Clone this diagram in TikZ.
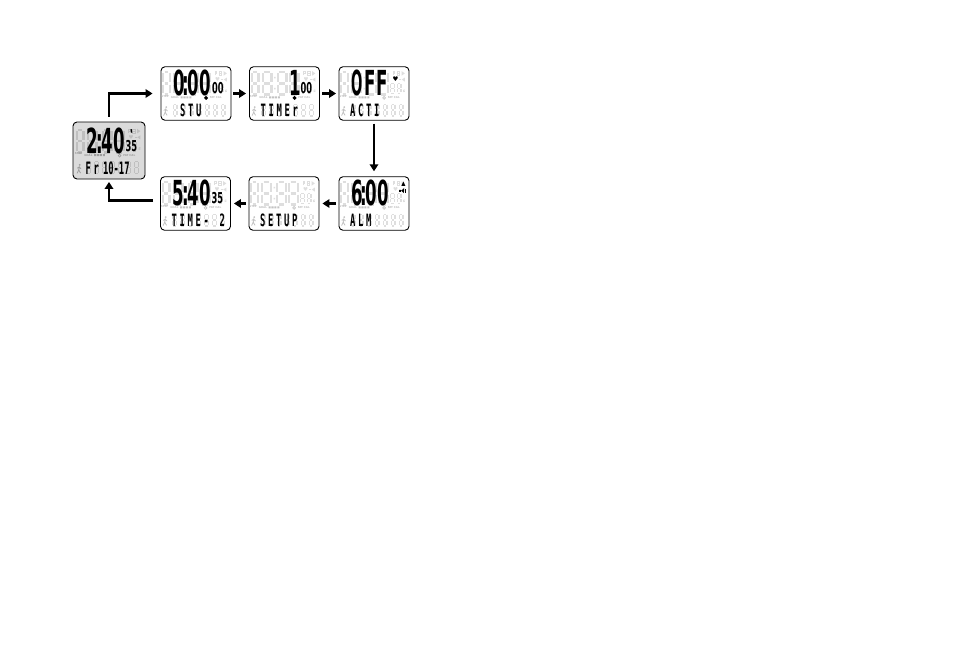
\documentclass[tikz,border=0pt]{standalone}
\usepackage{fontspec}
\usepackage{graphicx}
\usetikzlibrary{arrows.meta}
\newfontfamily\lcdfont{DejaVu Sans}
\newfontfamily\segfont{DejaVu Sans Mono}
\definecolor{ghostW}{gray}{0.87}
\definecolor{ghostG}{gray}{0.75}
\definecolor{bgA}{gray}{0.86}
\definecolor{tinyW}{gray}{0.76}
\definecolor{tinyG}{gray}{0.62}
\def\gcol{ghostW}
\def\tcol{tinyW}

% ghost seven-segment "8": x y w h thickness
\newcommand\geight[5]{%
 \pgfmathsetmacro\qa{#5/2}%
 \pgfmathsetmacro\qg{#5*0.6}%
 \pgfmathsetmacro\qxl{#1+\qa}\pgfmathsetmacro\qxr{#1+#3-\qa}%
 \pgfmathsetmacro\qxli{\qxl+\qg}\pgfmathsetmacro\qxri{\qxr-\qg}%
 \pgfmathsetmacro\qyt{#2+\qa}\pgfmathsetmacro\qym{#2+#4/2}\pgfmathsetmacro\qyb{#2+#4-\qa}%
 \pgfmathsetmacro\qyti{\qyt+\qg}\pgfmathsetmacro\qymu{\qym-\qg}%
 \pgfmathsetmacro\qymd{\qym+\qg}\pgfmathsetmacro\qybi{\qyb-\qg}%
 \draw[line width=#5pt, draw=\gcol, line cap=butt]
   (\qxli,\qyt)--(\qxri,\qyt) (\qxli,\qym)--(\qxri,\qym) (\qxli,\qyb)--(\qxri,\qyb)
   (\qxl,\qyti)--(\qxl,\qymu) (\qxr,\qyti)--(\qxr,\qymu)
   (\qxl,\qymd)--(\qxl,\qybi) (\qxr,\qymd)--(\qxr,\qybi);}

\newcommand\bigtxt[1]{{\lcdfont\bfseries\fontsize{20}{20}\selectfont\scalebox{0.83}[1.725]{#1}}}
\newcommand\smalltxt[1]{{\lcdfont\bfseries\fontsize{15}{15}\selectfont\scalebox{0.55}[1]{#1}}}
\newcommand\segtxt[1]{{\segfont\bfseries\fontsize{10.5}{10.5}\selectfont\scalebox{0.84}[1.62]{#1}}}
\newcommand\lk{\kern3.2pt}
\newcommand\ck{\kern-1.97pt}

\tikzset{
 lcdbox/.style={draw=black, line width=0.9pt, rounded corners=4pt, fill=white,
   minimum width=70pt, minimum height=53.5pt, inner sep=0pt},
 flow/.style={line width=2.6pt, -{Triangle[length=7pt,width=8.5pt]}},
 txt/.style={anchor=south west, inner sep=0pt, outer sep=0pt},
 tinylbl/.style={anchor=north west, inner sep=0pt, text=\tcol,
   font=\lcdfont\bfseries\fontsize{2.7}{2.7}\selectfont},
 icon/.style={draw=\gcol, line width=0.7pt},
 blackwatch/.style={line width=0.8pt},
}

% common LCD background (ghost segments, icons, tiny labels)
\newcommand\lcdbase[1]{%
 \geight{1.5}{4.5}{9}{25}{2.4}
 \geight{12.5}{4.5}{11}{25}{2.4}
 \geight{27.5}{4.5}{11}{25}{2.4}
 \geight{39.5}{4.5}{11}{25}{2.4}
 \fill[\gcol] (25,10.5) rectangle (26.6,12.1) (25,21.5) rectangle (26.6,23.1);
 \geight{51.5}{16.5}{5.2}{11}{1.3}
 \geight{58}{16.5}{5.2}{11}{1.3}
 \draw[icon] (54.5,8.8)--(54.5,5)--(56.2,5)--(56.2,6.8)--(54.5,6.8);
 \draw[icon] (58.3,4.8) rectangle (61,9.5) (58.3,7.1)--(61,7.1);
 \fill[\gcol] (63,4.8)--(66.3,7.1)--(63,9.4)--cycle;
 \node[inner sep=0pt, text=\gcol] (#1-heart) at (57,13.3) {\lcdfont\fontsize{5.5}{5.5}\selectfont ♥};
 \draw[icon] (60.8,13.3)--(62.6,13.3);
 \fill[\gcol] (63.2,13.3)--(66.3,11.3)--(66.3,15.3)--cycle;
 \draw[icon] (66.4,25.2) arc (40:320:1);
 \node[tinylbl] (#1-step) at (0.6,28.6) {STEP};
 \node[tinylbl] (#1-goal) at (10,29.8) {GOAL};
 \fill[\tcol] (20,30) rectangle (22.1,32) (22.9,30) rectangle (25,32)
   (25.8,30) rectangle (27.9,32) (28.7,30) rectangle (30.8,32);
 \draw[draw=\tcol, line width=0.7pt] (45.5,31.6) circle (1.4) (45.5,30)--(45.5,29.4);
 \node[tinylbl] (#1-fat) at (49,30.2) {FAT CAL};
 \begin{scope}[draw=\tcol, line width=0.8pt, line cap=round]
  \fill[\tcol] (5.6,40.8) circle (1);
  \draw (5.3,42.3)--(4.7,45.8) (4.7,45.8)--(3.1,49.1) (4.7,45.8)--(6.4,48.9)
        (3.3,44.1)--(5.1,43)--(6.9,44.6);
 \end{scope}
 \foreach \k in {0,...,6}{\geight{12+8*\k}{37.2}{5}{13}{1.1}}
}

\begin{document}
\begin{tikzpicture}[x=1pt,y=-1pt]
\fill[white] (0,0) rectangle (954,646);
\useasboundingbox (0,0) rectangle (954,646);

% boxes
\node[lcdbox, fill=bgA, minimum width=72pt, minimum height=57pt] (A) at (109,150.5) {};
\node[lcdbox] (B) at (196,93.5) {};
\node[lcdbox] (C) at (284.5,93.5) {};
\node[lcdbox] (D) at (374,93.5) {};
\node[lcdbox] (E) at (374,203.5) {};
\node[lcdbox] (F) at (284,203.5) {};
\node[lcdbox] (G) at (195.5,203.5) {};

% A : 2:40 35 / Fr 10-17
\begin{scope}[shift={(A.north west)}, shift={(1.5,2.5)}]
 \def\gcol{ghostG}\def\tcol{tinyG}
 \lcdbase{A}
 \node[txt] (A-big) at (12.5,29.5) {\bigtxt{2\ck:\ck40}};
 \draw[line width=1.3pt] (57,5.2)--(57.6,8.6);
 \node[txt] (A-sm) at (51.5,27.5) {\smalltxt{35}};
 \node[txt] (A-bot1) at (11.5,50.2) {\segtxt{F\lk r}};
 \node[txt] (A-bot2) at (29,50.2) {\segtxt{10-17}};
\end{scope}

% B : 0:00 00 / STU
\begin{scope}[shift={(B.north west)}]
 \lcdbase{B}
 \node[txt] (B-big) at (12.5,29.5) {\bigtxt{0\ck:\ck00}};
 \node[txt] (B-sm) at (51.5,27.5) {\smalltxt{00}};
 \draw[blackwatch] (45.5,31.6) circle (1.5) (44.6,30.7)--(46.4,32.5) (44.6,32.5)--(46.4,30.7);
 \node[txt] (B-bot) at (19.5,50.2) {\segtxt{S\lk T\lk U}};
\end{scope}

% C : 1 00 / TIMEr
\begin{scope}[shift={(C.north west)}]
 \lcdbase{C}
 \node[txt] (C-big) at (40.5,29.5) {\bigtxt{1}};
 \node[txt] (C-sm) at (51.5,27.5) {\smalltxt{00}};
 \draw[blackwatch] (45.5,31.6) circle (1.5) (44.6,30.7)--(46.4,32.5) (44.6,32.5)--(46.4,30.7);
 \node[txt] (C-bot) at (11.5,50.2) {\segtxt{T\lk I\lk M\lk E\lk r}};
\end{scope}

% D : OFF / ACTI
\begin{scope}[shift={(D.north west)}]
 \lcdbase{D}
 \node[txt] (D-big) at (12.5,29.5) {\bigtxt{\scalebox{0.8}[1]{O}\kern2.1pt F\kern1.4pt F}};
 \node[inner sep=0pt] (D-hrt) at (57,13) {\lcdfont\fontsize{6.5}{6.5}\selectfont ♥};
 \node[txt] (D-bot) at (11.5,50.2) {\segtxt{A\lk C\lk T\lk I}};
\end{scope}

% E : 6:00 / ALM
\begin{scope}[shift={(E.north west)}]
 \lcdbase{E}
 \node[txt] (E-big) at (12.5,29.5) {\bigtxt{6\ck:\ck00}};
 \fill (62.8,9.6)--(66.8,9.6)--(64.8,5.2)--cycle;
 \fill (60.6,13.2) rectangle (62.2,15.6);
 \fill (62.6,14.4)--(65.4,12)--(65.4,16.8)--cycle;
 \draw[line width=0.6pt] (66.3,12.6)--(66.3,16.2);
 \node[txt] (E-bot) at (11.5,50.2) {\segtxt{A\lk L\lk M}};
\end{scope}

% F : SETUP
\begin{scope}[shift={(F.north west)}]
 \lcdbase{F}
 \node[txt] (F-bot) at (11.5,50.2) {\segtxt{S\lk E\lk T\lk U\lk P}};
\end{scope}

% G : 5:40 35 / TIME- 2
\begin{scope}[shift={(G.north west)}]
 \lcdbase{G}
 \node[txt] (G-big) at (12.5,29.5) {\bigtxt{5\ck:\ck40}};
 \node[txt] (G-sm) at (51.5,27.5) {\smalltxt{35}};
 \node[txt] (G-bot) at (11.5,50.2) {\segtxt{T\lk I\lk M\lk E\lk -\kern12.8pt 2}};
\end{scope}

% connectors
\draw[flow, shorten <=5pt, shorten >=8pt] (A.north) |- (B.west);
\draw[flow, shorten <=2pt, shorten >=3pt] (B) -- (C);
\draw[flow, shorten <=2.5pt, shorten >=2.5pt] (C) -- (D);
\draw[flow, shorten <=3pt, shorten >=5pt] (D) -- (E);
\draw[flow, shorten <=3pt, shorten >=3pt] (E) -- (F);
\draw[flow, shorten <=3pt, shorten >=3pt] (F) -- (G);
\draw[flow, shorten <=7pt, shorten >=2.5pt] ([yshift=3pt]G.west) -| (A.south);
\end{tikzpicture}
\end{document}
